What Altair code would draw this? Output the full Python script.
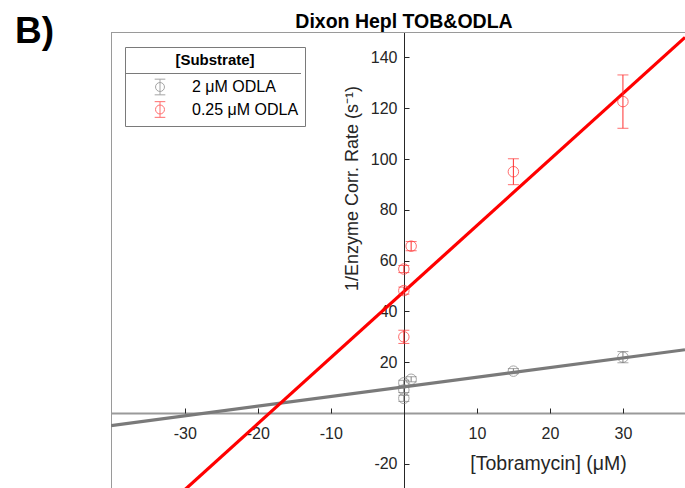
import altair as alt
import pandas as pd

# Dixon plot: inverse corrected rate vs tobramycin concentration at two ODLA levels
series = ["2 μM ODLA", "0.25 μM ODLA"]

conc_2uM = [0, 0, 0, 1, 15, 30]
inv_rate_2uM = [5.8, 9.1, 11.9, 13.3, 16.5, 22.0]
err_2uM = [1.2, 1.0, 1.0, 1.0, 1.0, 2.2]

conc_025uM = [0, 0, 0, 1, 15, 30]
inv_rate_025uM = [30.0, 48.2, 56.7, 65.7, 95.0, 122.6]
err_025uM = [2.6, 1.4, 1.4, 1.8, 5.1, 10.5]

# linear fits: (slope, intercept)
fit_2uM = (0.38, 10.3)
fit_025uM = (2.6, 47.8)

x_ticks = [-30, -20, -10, 10, 20, 30]
y_ticks = [-20, 20, 40, 60, 80, 100, 120, 140]
x_domain = [-40.1, 38.5]
y_domain = [-29.5, 150]

point_colors = ["#7f7f7f", "#ff3030"]
line_colors = ["#7a7a7a", "#ff0000"]

W, H = 574, 456
FONT = "Liberation Sans"
INK = "#262626"
BOX = "#7a7a7a"

pts = pd.DataFrame({
    "series": [series[0]] * len(conc_2uM) + [series[1]] * len(conc_025uM),
    "conc": conc_2uM + conc_025uM,
    "rate": inv_rate_2uM + inv_rate_025uM,
    "err": err_2uM + err_025uM,
})
pts["lo"] = pts["rate"] - pts["err"]
pts["hi"] = pts["rate"] + pts["err"]

fit_rows = []
for name, (m, b) in zip(series, [fit_2uM, fit_025uM]):
    for xv in x_domain:
        fit_rows.append({"series": name, "conc": xv, "rate": m * xv + b})
fits = pd.DataFrame(fit_rows)

xs = alt.Scale(domain=x_domain, nice=False, zero=False)
ys = alt.Scale(domain=y_domain, nice=False, zero=False)
pcol = alt.Scale(domain=series, range=point_colors)
lcol = alt.Scale(domain=series, range=line_colors)

plain_label = "datum.value + ''"

x_label_axis = alt.Axis(
    orient="bottom", offset=-75, values=x_ticks, ticks=False, grid=False,
    domainColor="#9a9a9a", domainWidth=2, labelFontSize=16, labelColor=INK,
    labelPadding=12, labelFlush=False, labelOverlap=False, labelExpr=plain_label,
    title="[Tobramycin] (μM)", titleX=437, titleY=50, titleFontSize=19.5,
    titleFontWeight="normal", titleColor=INK, titleBaseline="middle",
    titleAlign="center",
)
y_label_axis = alt.Axis(
    orient="left", offset=-293, values=y_ticks, ticks=False, grid=False,
    domainColor=INK, domainWidth=1, labelFontSize=16, labelColor=INK,
    labelPadding=7, labelFlush=False, labelOverlap=False, labelExpr=plain_label,
    title="1/Enzyme Corr. Rate (s⁻¹)", titleX=-52, titleY=156, titleAngle=270,
    titleFontSize=18, titleFontWeight="normal", titleColor=INK,
    titleBaseline="middle", titleAlign="center",
)
x_tick_axis = alt.Axis(
    orient="top", offset=-381, values=x_ticks, labels=False, domain=False,
    grid=False, tickSize=5, tickColor=INK, tickWidth=1, title=None,
)
y_tick_axis = alt.Axis(
    orient="right", offset=-281, values=y_ticks, labels=False, domain=False,
    grid=False, tickSize=5, tickColor=INK, tickWidth=1, title=None,
)

frame = pd.DataFrame({"k": [0]})
top_edge = alt.Chart(frame).mark_rule(color="#9a9a9a", strokeWidth=1).encode(
    x=alt.value(0), x2=alt.value(W), y=alt.value(0.5))
left_edge = alt.Chart(frame).mark_rule(color="#9a9a9a", strokeWidth=1).encode(
    x=alt.value(0.5), y=alt.value(0), y2=alt.value(H))
legend_rule = alt.Chart(frame).mark_rule(color=BOX, strokeWidth=1).encode(
    x=alt.value(14), x2=alt.value(190), y=alt.value(41.5))

fit_lines = alt.Chart(fits).mark_line(strokeWidth=3.2, clip=True).encode(
    x=alt.X("conc:Q", scale=xs, axis=x_label_axis),
    y=alt.Y("rate:Q", scale=ys, axis=y_label_axis),
    color=alt.Color("series:N", scale=lcol, legend=None),
    detail="series:N",
)

bars = alt.Chart(pts).mark_rule(strokeWidth=1).encode(
    x=alt.X("conc:Q", scale=xs, axis=None),
    y=alt.Y("lo:Q", scale=ys, axis=None),
    y2="hi:Q",
    color=alt.Color("series:N", scale=pcol, legend=None),
)
caps_lo = alt.Chart(pts).mark_tick(orient="horizontal", size=11, thickness=1).encode(
    x=alt.X("conc:Q", scale=xs, axis=None),
    y=alt.Y("lo:Q", scale=ys, axis=None),
    color=alt.Color("series:N", scale=pcol, legend=None),
)
caps_hi = alt.Chart(pts).mark_tick(orient="horizontal", size=11, thickness=1).encode(
    x=alt.X("conc:Q", scale=xs, axis=None),
    y=alt.Y("hi:Q", scale=ys, axis=None),
    color=alt.Color("series:N", scale=pcol, legend=None),
)

# legend glyph: open circle with a capped vertical error bar through it
errbar_symbol = (
    "M -0.64 0 A 0.64 0.64 0 1 1 0.64 0 A 0.64 0.64 0 1 1 -0.64 0 "
    "M 0 -1.12 L 0 1.12 M -0.76 -1.12 L 0.76 -1.12 M -0.76 1.12 L 0.76 1.12"
)
points = alt.Chart(pts).mark_point(shape="circle", filled=False, size=110, strokeWidth=1).encode(
    x=alt.X("conc:Q", scale=xs, axis=x_tick_axis),
    y=alt.Y("rate:Q", scale=ys, axis=y_tick_axis),
    color=alt.Color(
        "series:N", scale=pcol,
        legend=alt.Legend(
            title="[Substrate]", orient="none", legendX=14, legendY=15,
            titleFontSize=15, titleFontWeight="bold", titleColor="black",
            titleAnchor="middle", titleAlign="center", titlePadding=11,
            labelFontSize=16, labelColor="black", labelOffset=24,
            symbolType=errbar_symbol, symbolSize=196, symbolStrokeWidth=1,
            symbolFillColor="transparent", symbolOffset=21, rowPadding=2.5,
            padding=6, strokeColor=BOX,
        ),
    ),
)

panel = alt.Chart(pd.DataFrame({"panel": ["B)"]})).mark_text(
    align="left", baseline="alphabetic", fontSize=37, fontWeight="bold",
    color="black", font=FONT,
).encode(text="panel:N", x=alt.value(-96), y=alt.value(11))

heading = alt.Chart(pd.DataFrame({"heading": ["Dixon Hepl TOB&ODLA"]})).mark_text(
    align="center", baseline="alphabetic", fontSize=19.5, fontWeight="bold",
    color="black", font=FONT,
).encode(text="heading:N", x=alt.value(293), y=alt.value(-4))

chart = alt.layer(
    top_edge, left_edge, legend_rule, fit_lines, bars, caps_lo, caps_hi, points,
    panel, heading,
).resolve_axis(
    x="independent", y="independent"
).resolve_scale(
    color="independent"
).properties(
    width=W, height=H,
    autosize=alt.AutoSizeParams(type="none"),
    padding={"left": 111, "top": 32, "right": 0, "bottom": 0},
).configure(
    font=FONT,
).configure_view(
    stroke=None,
)

chart.save("out.html", embed_options={"renderer": "svg", "actions": False})
